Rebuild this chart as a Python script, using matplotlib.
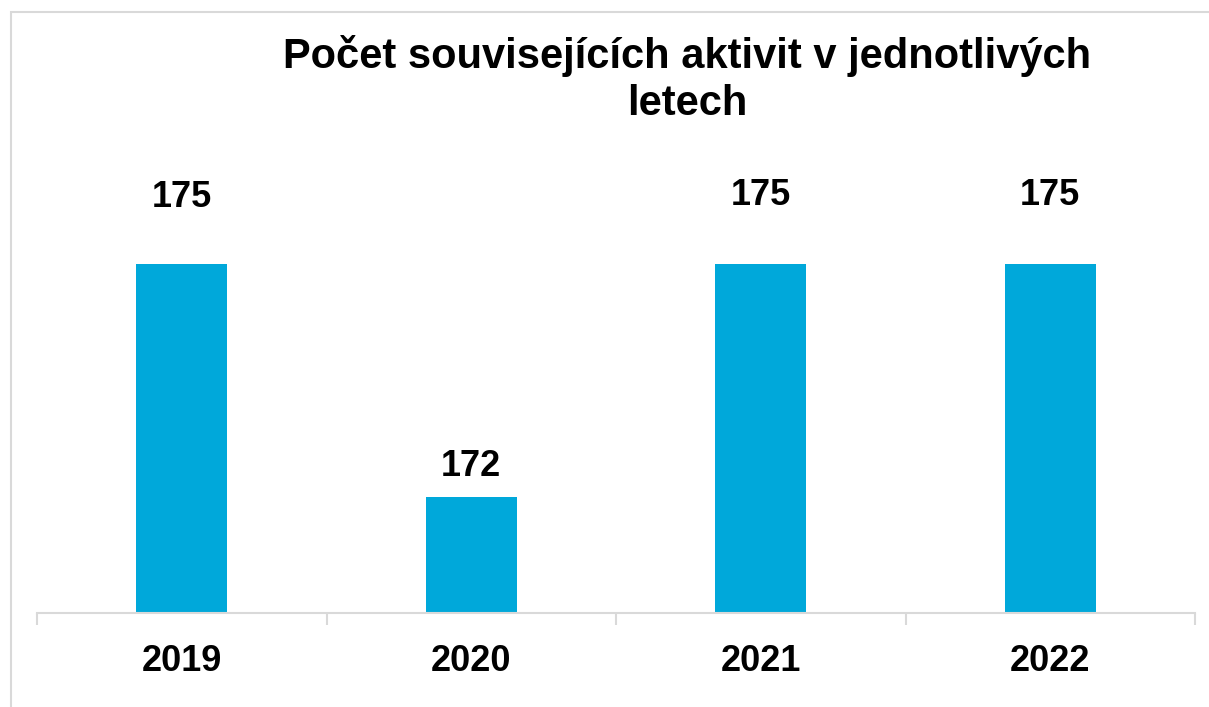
import matplotlib.pyplot as plt
from matplotlib.patches import Rectangle

years = ['2019', '2020', '2021', '2022']
counts = [175, 172, 175, 175]
title = 'Počet souvisejících aktivit v jednotlivých\nletech'

bar_color = '#00A8DA'
grid_gray = '#D9D9D9'
fam = ['Liberation Sans', 'DejaVu Sans']

fig = plt.figure(figsize=(12.09, 7.07), dpi=100)
W, H = 1209, 707
ax = fig.add_axes([37 / W, 1 - 613 / H, (1195 - 37) / W, (613 - 264) / H])

x = range(len(years))
bars = ax.bar(x, counts, width=0.315, color=bar_color, zorder=2)
ax.set_ylim(170.5, 175)
ax.set_xlim(-0.5, len(years) - 0.5)

# value labels (offsets in points, the original places them unevenly)
offsets = [35, 9, 37, 37]
for b, v, off in zip(bars, counts, offsets):
    ax.annotate(str(v), (b.get_x() + b.get_width() / 2, b.get_height()),
                xytext=(0, off), textcoords='offset points',
                ha='center', va='bottom', fontsize=26, fontweight='bold',
                family=fam, annotation_clip=False)

for s in ['top', 'right', 'left']:
    ax.spines[s].set_visible(False)
ax.spines['bottom'].set_color(grid_gray)
ax.spines['bottom'].set_linewidth(1.5)
ax.set_yticks([])

ax.set_xticks(list(x))
ax.set_xticklabels(years, fontsize=26, fontweight='bold', family=fam)
ax.tick_params(axis='x', which='major', length=0, pad=22)
ax.set_xticks([i - 0.5 for i in range(len(years) + 1)], minor=True)
ax.tick_params(axis='x', which='minor', length=8.5, width=1.5, color=grid_gray)

fig.text(687 / W, 1 - 35 / H, title, ha='center', va='top', fontsize=30,
         fontweight='bold', family=fam, linespacing=1.22)

# chart frame (runs off the right and bottom edge)
fig.patches.append(Rectangle((11 / W, -0.1), 1.2, 1 - 12 / H + 0.1,
                             transform=fig.transFigure, fill=False,
                             edgecolor=grid_gray, linewidth=1.5))

fig.savefig('out.png', dpi=100)
